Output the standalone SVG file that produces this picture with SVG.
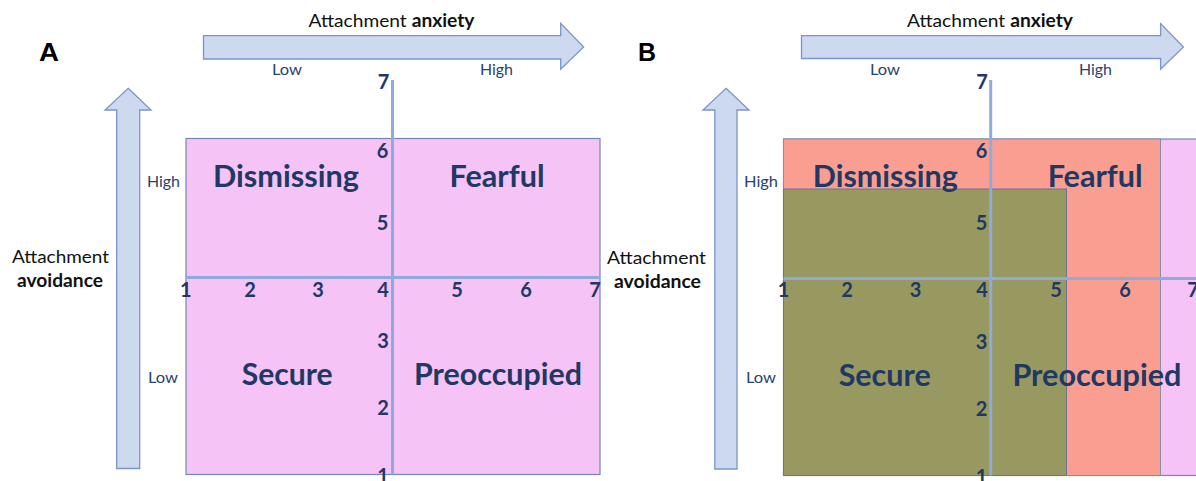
<svg xmlns="http://www.w3.org/2000/svg" width="1196" height="481" viewBox="0 0 1196 481">
<style>
.arrow{fill:#CDD9EF;stroke:#7C95C8;stroke-width:1.3}
.quad{fill:#F5C3F5;stroke:#7388BA;stroke-width:1.2}
.red{fill:#FA9E91;stroke:#8A8FA8;stroke-width:1}
.olive{fill:#979961;stroke:#6E7393;stroke-width:1}
.mid{stroke:#8FAADC;stroke-width:3;fill:none}
.lab{font-family:Lato,"Open Sans",sans-serif;font-weight:bold;fill:#203864;font-size:31px}
.num{font-family:Lato,"Open Sans",sans-serif;font-weight:bold;fill:#203864;font-size:20px;text-anchor:middle}
.lvl{font-family:Lato,"Open Sans",sans-serif;fill:#2A4270;font-size:16px}
.ax{font-family:Lato,"Open Sans",sans-serif;fill:#111;font-size:18px}
.pan{font-family:"Liberation Sans",Arial,sans-serif;font-weight:bold;fill:#000;font-size:25px}
</style>
<rect width="1196" height="481" fill="#fff"/>

<g id="panelA">
  <rect class="quad" x="186" y="138.5" width="414" height="336"/>
  <g id="arrowsA">
    <path class="arrow" d="M203.5,35.7 H560.7 V23.3 L583.6,47 L560.7,69.3 V59 H203.5 Z"/>
    <path class="arrow" d="M128.2,88.3 L151,110 H139.7 V468.5 H116.7 V110 H105 Z"/>
  </g>
  <line class="mid" x1="186" y1="277.5" x2="600" y2="277.5"/>
  <line class="mid" x1="392.5" y1="80" x2="392.5" y2="474.5"/>
  <text class="pan" x="39" y="60.5" textLength="20" lengthAdjust="spacingAndGlyphs">A</text>
  <text class="ax" x="308.5" y="27" textLength="166" lengthAdjust="spacingAndGlyphs">Attachment <tspan font-weight="bold">anxiety</tspan></text>
  <text class="lvl" x="272" y="75" textLength="30" lengthAdjust="spacingAndGlyphs">Low</text>
  <text class="lvl" x="480" y="75" textLength="33" lengthAdjust="spacingAndGlyphs">High</text>
  <text class="ax" x="12" y="263" textLength="97" lengthAdjust="spacingAndGlyphs">Attachment</text>
  <text class="ax" x="17" y="287" font-weight="bold" textLength="86" lengthAdjust="spacingAndGlyphs">avoidance</text>
  <text class="lvl" x="147" y="187" textLength="33" lengthAdjust="spacingAndGlyphs">High</text>
  <text class="lvl" x="148" y="383" textLength="30" lengthAdjust="spacingAndGlyphs">Low</text>
  <g id="quadLabelsA">
    <text class="lab" x="213" y="187" textLength="146" lengthAdjust="spacingAndGlyphs">Dismissing</text>
    <text class="lab" x="449.5" y="187" textLength="95" lengthAdjust="spacingAndGlyphs">Fearful</text>
    <text class="lab" x="241.7" y="385" textLength="91" lengthAdjust="spacingAndGlyphs">Secure</text>
    <text class="lab" x="414" y="385" textLength="168" lengthAdjust="spacingAndGlyphs">Preoccupied</text>
  </g>
  <g id="ticksA">
    <text class="num" x="383.5" y="89">7</text>
    <text class="num" x="382.5" y="158">6</text>
    <text class="num" x="382.5" y="230">5</text>
    <text class="num" x="383" y="348">3</text>
    <text class="num" x="383" y="415">2</text>
    <text class="num" x="383" y="483">1</text>
    <text class="num" x="185.7" y="297">1</text>
    <text class="num" x="250" y="297">2</text>
    <text class="num" x="318" y="297">3</text>
    <text class="num" x="383" y="297">4</text>
    <text class="num" x="457" y="297">5</text>
    <text class="num" x="526" y="297">6</text>
    <text class="num" x="595" y="297">7</text>
  </g>
</g>

<g id="panelB">
  <rect class="quad" x="783.5" y="139" width="414" height="336.5"/>
  <rect class="red" x="783.5" y="139" width="377" height="336.5"/>
  <rect class="olive" x="783.5" y="189" width="283" height="286.5"/>
  <g id="arrowsB">
    <path class="arrow" d="M801.5,35.7 H1160.6 V23.5 L1183.4,47 L1160.6,69.3 V58.5 H801.5 Z"/>
    <path class="arrow" d="M726,88.3 L749,110 H737 V469 H714.8 V110 H703 Z"/>
  </g>
  <line class="mid" x1="783.5" y1="278.5" x2="1196" y2="278.5"/>
  <line class="mid" x1="990.7" y1="80" x2="990.7" y2="475.5"/>
  <text class="pan" x="638" y="60.5" textLength="18" lengthAdjust="spacingAndGlyphs">B</text>
  <text class="ax" x="907" y="27" textLength="166" lengthAdjust="spacingAndGlyphs">Attachment <tspan font-weight="bold">anxiety</tspan></text>
  <text class="lvl" x="870" y="75" textLength="30" lengthAdjust="spacingAndGlyphs">Low</text>
  <text class="lvl" x="1079" y="75" textLength="33" lengthAdjust="spacingAndGlyphs">High</text>
  <text class="ax" x="607" y="264" textLength="99" lengthAdjust="spacingAndGlyphs">Attachment</text>
  <text class="ax" x="614" y="288" font-weight="bold" textLength="87" lengthAdjust="spacingAndGlyphs">avoidance</text>
  <text class="lvl" x="744" y="187" textLength="34" lengthAdjust="spacingAndGlyphs">High</text>
  <text class="lvl" x="746" y="383" textLength="30" lengthAdjust="spacingAndGlyphs">Low</text>
  <g id="quadLabelsB">
    <text class="lab" x="812.8" y="187" textLength="145" lengthAdjust="spacingAndGlyphs">Dismissing</text>
    <text class="lab" x="1047.7" y="187" textLength="95" lengthAdjust="spacingAndGlyphs">Fearful</text>
    <text class="lab" x="838.7" y="386" textLength="92" lengthAdjust="spacingAndGlyphs">Secure</text>
    <text class="lab" x="1012.4" y="386" textLength="169" lengthAdjust="spacingAndGlyphs">Preoccupied</text>
  </g>
  <g id="ticksB">
    <text class="num" x="982" y="89">7</text>
    <text class="num" x="981.5" y="158">6</text>
    <text class="num" x="981.5" y="230">5</text>
    <text class="num" x="981.5" y="349">3</text>
    <text class="num" x="981.5" y="416">2</text>
    <text class="num" x="981.5" y="484">1</text>
    <text class="num" x="783.5" y="297">1</text>
    <text class="num" x="847" y="297">2</text>
    <text class="num" x="915.5" y="297">3</text>
    <text class="num" x="982" y="297">4</text>
    <text class="num" x="1056" y="297">5</text>
    <text class="num" x="1125" y="297">6</text>
    <text class="num" x="1193" y="297">7</text>
  </g>
</g>
</svg>
